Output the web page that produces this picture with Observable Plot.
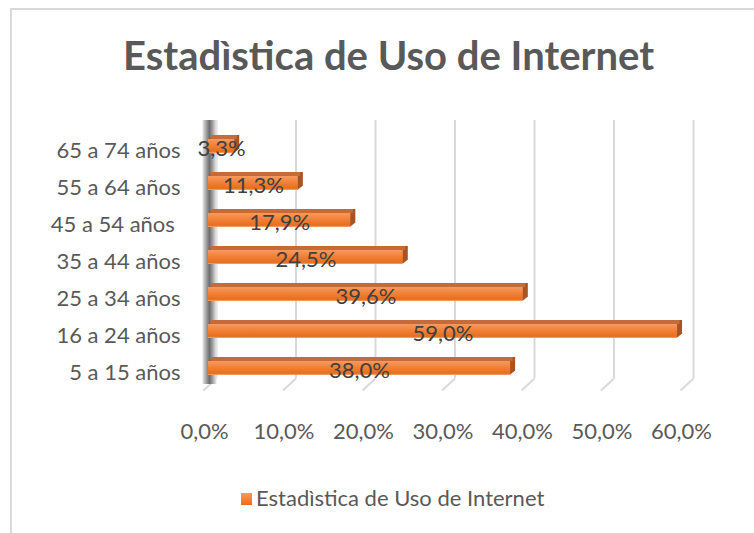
<!DOCTYPE html>
<html>
<head>
<meta charset="utf-8">
<script src="https://cdn.jsdelivr.net/npm/d3@7"></script>
<script src="https://cdn.jsdelivr.net/npm/@observablehq/plot@0.6"></script>
<style>
  html, body { margin: 0; padding: 0; background: #ffffff; }
  #chart { position: relative; width: 754px; height: 533px; overflow: hidden; background: #fff; font-family: Lato, "Open Sans", sans-serif; }
  #border { position: absolute; left: 10px; top: 8px; width: 800px; height: 600px; border-left: 2px solid #d9d9d9; border-top: 2px solid #d9d9d9; }
  #title { position: absolute; left: 0; top: 0; width: 777px; height: 100px; box-sizing: border-box; padding-top: 35px; line-height: 40px; text-align: center; font-size: 40px; font-weight: 700; color: #595959; white-space: nowrap; }
  #plot { position: absolute; left: 0; top: 100px; }
  #legend { position: absolute; left: 0; top: 460px; width: 754px; height: 73px; }
  #legend .swatch { position: absolute; left: 241px; top: 33px; width: 11px; height: 12px; background: linear-gradient(#f79a5e, #e86d1c); }
  #legend .label { position: absolute; left: 256px; top: 27px; line-height: 22px; font-size: 22px; color: #595959; white-space: nowrap; }
</style>
</head>
<body>
<div id="chart">
  <div id="border"></div>
  <div id="title"></div>
  <div id="plot"></div>
  <div id="legend"><div class="swatch"></div><div class="label"></div></div>
</div>
<script>
const chartTitle = "Estadìstica de Uso de Internet";
const seriesName = "Estadìstica de Uso de Internet";
const categories = ["5 a 15 años", "16 a 24 años", "25 a 34 años", "35 a 44 años", "45 a 54 años ", "55 a 64 años", "65 a 74 años"];
const values = [0.380, 0.590, 0.396, 0.245, 0.179, 0.113, 0.033];
const xTicks = [0, 0.1, 0.2, 0.3, 0.4, 0.5, 0.6];

const data = categories.map((c, i) => ({category: c, value: values[i]}));
const fmt = d => (d * 100).toFixed(1).replace(".", ",") + "%";

document.getElementById("title").textContent = chartTitle;
document.querySelector("#legend .label").textContent = seriesName;

const diag = { draw(ctx) { ctx.moveTo(8, -20); ctx.lineTo(-5, -8); } };

const extrusion = [1, 2, 3, 4, 5].map(i =>
  Plot.barX(data, {x: "value", y: "category", dx: i, dy: -0.8 * i, fill: "#a85422"})
);

const svg = Plot.plot({
  width: 754,
  height: 360,
  marginLeft: 208,
  marginRight: 69,
  marginTop: 16,
  marginBottom: 62,
  style: "font-family: Lato, 'Open Sans', sans-serif; color: #595959; white-space: pre; background: transparent;",
  x: {domain: [0, 0.6]},
  y: {domain: categories.slice().reverse(), paddingInner: 0.62, paddingOuter: 0.62},
  marks: [
    Plot.ruleX(xTicks, {dx: 8, insetTop: 4, insetBottom: 20, stroke: "#d9d9d9", strokeWidth: 2}),
    Plot.dot(xTicks, {x: d => d, frameAnchor: "bottom", symbol: diag, stroke: "#d9d9d9", strokeWidth: 2, fill: "none"}),
    Plot.rect([0], {x1: d => d, x2: d => d, insetLeft: -5.5, insetRight: -8.5, insetTop: 4, insetBottom: 14, fill: "url(#wallGrad)"}),
    ...extrusion,
    Plot.barX(data, {x: "value", y: "category", dx: 2.5, dy: -4, insetBottom: 10, fill: "#c56b3a"}),
    Plot.barX(data, {x: "value", y: "category", fill: "url(#barGrad)"}),
    Plot.text(data, {x: d => d.value / 2, y: "category", text: d => fmt(d.value), dy: 2.5, fontSize: 22, fill: "#404040"}),
    Plot.axisX({ticks: xTicks, tickFormat: fmt, tickSize: 0, tickPadding: 25, dx: -4, fontSize: 22, label: null}),
    Plot.axisY({tickSize: 0, tickPadding: 28, dy: 4, fontSize: 22, label: null})
  ]
});

d3.select(svg).insert("defs", ":first-child").html(`
  <linearGradient id="barGrad" x1="0" y1="0" x2="0" y2="1">
    <stop offset="0" stop-color="#f79a5e"/>
    <stop offset="0.5" stop-color="#f07f35"/>
    <stop offset="0.88" stop-color="#e86d1c"/>
    <stop offset="1" stop-color="#f5a878"/>
  </linearGradient>
  <linearGradient id="wallGrad" x1="0" y1="0" x2="1" y2="0">
    <stop offset="0" stop-color="#e6e6e6"/>
    <stop offset="0.3" stop-color="#9a9a9a"/>
    <stop offset="0.5" stop-color="#6e6e6e"/>
    <stop offset="0.75" stop-color="#a8a8a8"/>
    <stop offset="1" stop-color="#ececec"/>
  </linearGradient>
`);

document.getElementById("plot").appendChild(svg);
</script>
</body>
</html>
